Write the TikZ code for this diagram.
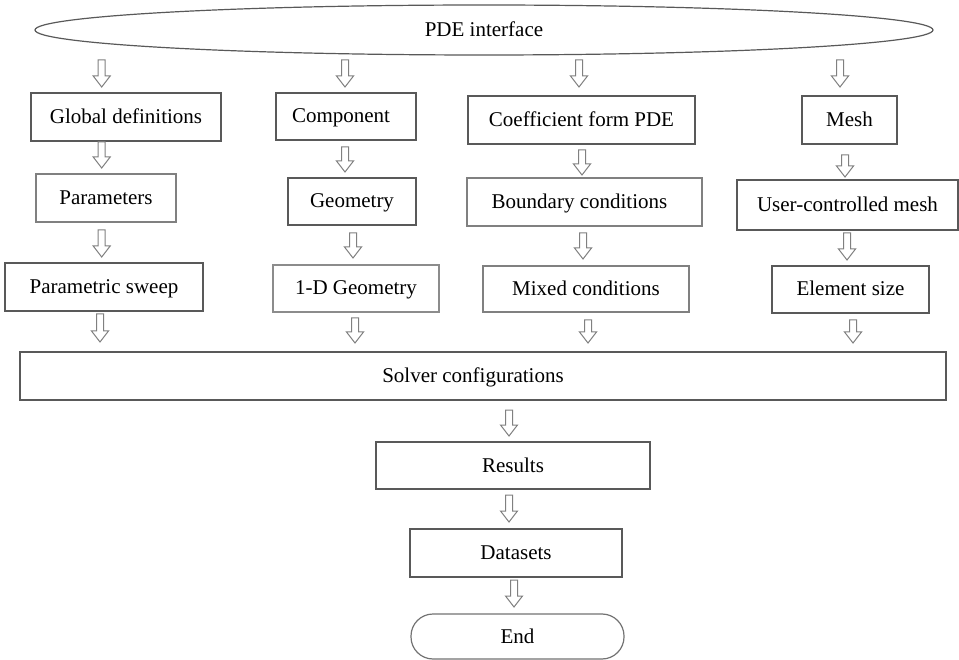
\documentclass[tikz,border=0pt]{standalone}
\usepackage{fontspec}
\setmainfont{Liberation Serif}
\usetikzlibrary{shapes.geometric,calc}
\tikzset{
  box/.style={draw=black!65, line width=1.2pt, rectangle, inner sep=0pt, text height=16pt, text depth=3pt, font=\fontsize{21}{25}\selectfont},
  harr/.style={draw=black!50, line width=1pt, fill=white, line join=miter},
}
\newcommand\harrow[3]{\draw[harr] ($(#1,#3)+(-3.5,-11)$) -- ($(#1,#2)+(-3.5,0)$) -- ($(#1,#2)+(3.5,0)$) -- ($(#1,#3)+(3.5,-11)$) -- ($(#1,#3)+(8.5,-11)$) -- (#1,#3) -- ($(#1,#3)+(-8.5,-11)$) -- cycle;}
\begin{document}
\begin{tikzpicture}[x=1pt,y=-1pt]
\useasboundingbox (0,0) rectangle (959,660);
\fill[white] (0,0) rectangle (959,660);
\node[box, ellipse, minimum width=898pt, minimum height=50pt] (pde) at (484,30) {PDE interface};
\node[box, minimum width=190pt, minimum height=48pt] (glob) at (126,117) {Global definitions};
\node[box, minimum width=140pt, minimum height=47pt] (comp) at (346,116.5) {\hspace*{-10pt}Component};
\node[box, minimum width=227pt, minimum height=48pt] (coef) at (581.5,120) {Coefficient form PDE};
\node[box, minimum width=95pt, minimum height=48pt] (mesh) at (849.5,120) {Mesh};
\node[box, minimum width=140pt, minimum height=48pt, draw=black!50] (param) at (106,198) {Parameters};
\node[box, minimum width=128pt, minimum height=47pt] (geom) at (352,201.5) {Geometry};
\node[box, minimum width=235pt, minimum height=48pt, draw=black!50] (bound) at (584.5,202) {\hspace*{-10pt}Boundary conditions};
\node[box, minimum width=221pt, minimum height=50pt] (user) at (847.5,205) {User-controlled mesh};
\node[box, minimum width=198pt, minimum height=48pt] (psweep) at (104,287) {Parametric sweep};
\node[box, minimum width=166pt, minimum height=47pt, draw=black!45] (oned) at (356,288.5) {1-D Geometry};
\node[box, minimum width=206pt, minimum height=46pt, draw=black!50] (mixed) at (586,289) {Mixed conditions};
\node[box, minimum width=157pt, minimum height=47pt] (elem) at (850.5,289.5) {Element size};
\node[box, minimum width=926pt, minimum height=48pt] (solver) at (483,376) {\hspace*{-20pt}Solver configurations};
\node[box, minimum width=274pt, minimum height=47pt] (results) at (513,465.5) {Results};
\node[box, minimum width=212pt, minimum height=48pt] (data) at (516,553) {Datasets};
\node[box, minimum width=213pt, minimum height=45pt, rounded corners=22pt, draw=black!55] (end) at (517.5,636.5) {End};
% block arrows
\harrow{101.7}{60}{87}
\harrow{345}{60}{87}
\harrow{579}{60}{87}
\harrow{840}{60}{87}
\harrow{101.7}{142}{168}
\harrow{345}{147}{172}
\harrow{582}{150}{175}
\harrow{845}{155}{177}
\harrow{101.7}{230}{257}
\harrow{353}{233}{258}
\harrow{583}{233}{259}
\harrow{847}{233}{260}
\harrow{100}{314}{342}
\harrow{355}{318}{343}
\harrow{588}{320}{343}
\harrow{853}{320}{343}
\harrow{509}{410}{436}
\harrow{509}{495}{522}
\harrow{514}{580}{607}
\end{tikzpicture}
\end{document}
